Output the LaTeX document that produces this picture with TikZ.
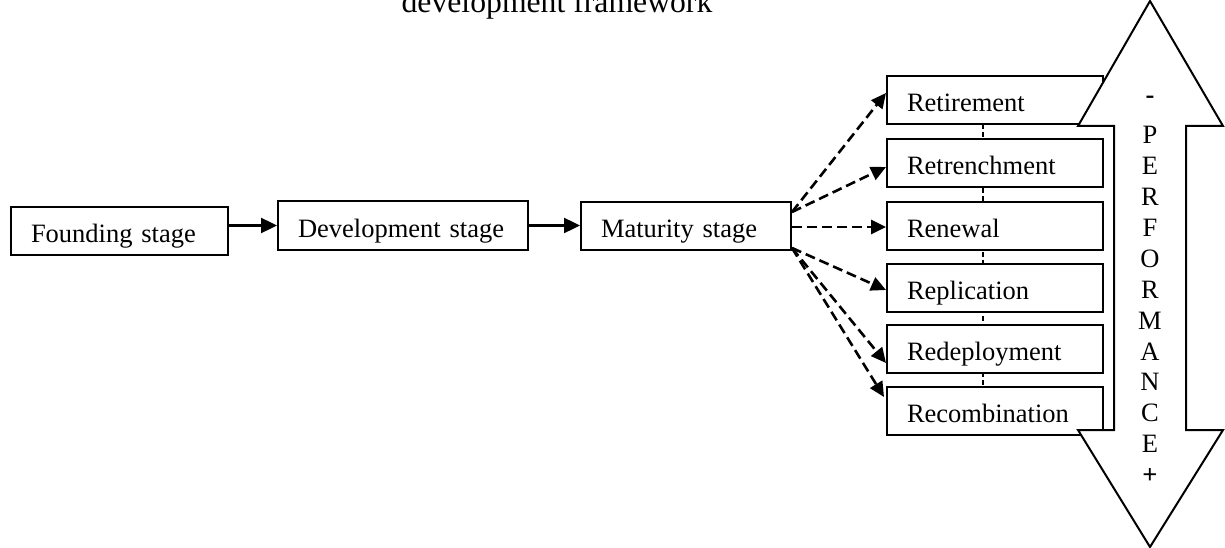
\documentclass[tikz,border=0pt]{standalone}
\usepackage{fontspec}
\setmainfont{Liberation Serif}
\usetikzlibrary{arrows.meta}
\begin{document}
\begin{tikzpicture}[x=1pt,y=-1pt,
  txt/.style={font=\fontsize{26.5}{30}\selectfont},
  stagebox/.style={draw,line width=2pt,fill=white,txt,align=left,inner xsep=20pt,inner ysep=0pt,minimum height=48pt,text height=23pt,text depth=0pt},
  optbox/.style={stagebox,text width=176pt},
  solidarrow/.style={line width=2.4pt,-{Triangle[length=16pt,width=15pt]}},
  dasharrow/.style={line width=2.6pt,dash pattern=on 10pt off 5pt,-{Triangle[length=15pt,width=14pt]}},
  letter/.style={txt,anchor=base,inner sep=0pt}
]
\useasboundingbox (0,0) rectangle (1225,548);
% title (partly cut off at the top, as in the reference)
\node[anchor=base,inner sep=0pt,font=\fontsize{31.7}{36}\selectfont] (title) at (557,13) {development framework};
% stage boxes
\node[stagebox,text width=177pt] (found) at (119.5,231) {Founding stage};
\node[stagebox,text width=210pt,minimum height=49pt] (dev) at (403,225.5) {Development stage};
\node[stagebox,text width=170pt] (mat) at (686,226) {Maturity stage};
% dashed spine behind the option boxes
\draw[line width=1.2pt,dash pattern=on 5pt off 3pt] (983,124) coordinate (spinetop) -- (983,387) coordinate (spinebot);
% option boxes
\node[optbox] (ret) at (995,100.5) {Retirement};
\node[optbox] (rtr) at (995,163.5) {Retrenchment};
\node[optbox] (ren) at (995,226) {Renewal};
\node[optbox] (rep) at (995,287.5) {Replication};
\node[optbox] (red) at (995,349) {Redeployment};
\node[optbox] (rec) at (995,411) {Recombination};
% solid arrows
\draw[solidarrow] (dev.west -| found.east) -- (dev.west);
\draw[solidarrow] (dev.east) -- (dev.east -| mat.west);
% dashed arrows
\draw[dasharrow] ([yshift=-11pt]mat.north east) -- ([yshift=7.5pt]ret.west);
\draw[dasharrow] ([yshift=-11pt]mat.north east) -- ([yshift=-3.5pt]rtr.west);
\draw[dasharrow] ([yshift=-1pt]mat.east) -- ([yshift=-1pt]ren.west);
\draw[dasharrow] ([yshift=3pt]mat.south east) -- ([yshift=-2.5pt]rep.west);
\draw[dasharrow] ([yshift=3pt]mat.south east) -- ([yshift=-14pt]red.west);
\draw[dasharrow] ([yshift=3pt]mat.south east) -- ([yshift=14pt,xshift=-2pt]rec.west);
% performance double arrow
\draw[line width=2pt,fill=white,line join=miter]
  (1150,1) -- (1223,126) -- (1186,126) -- (1186,430) -- (1223,430) -- (1150,547)
  -- (1078,430) -- (1114,430) -- (1114,126) -- (1078,126) -- cycle;
\node[letter] (lminus) at (1150,103.5) {\textbf{-}};
\foreach \t [count=\i] in {P,E,R,F,O,R,M,A,N,C,E}
  \node[letter] (l\i) at (1150,{143.7+30.9*(\i-1)}) {\t};
\node[letter] (lplus) at (1150,483.6) {\textbf{+}};
\end{tikzpicture}
\end{document}
